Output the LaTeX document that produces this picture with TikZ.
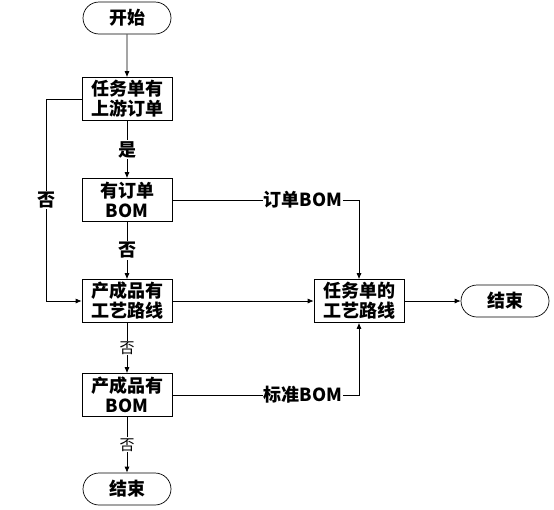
\documentclass[tikz,border=0pt]{standalone}
\usepackage{fontspec}
\setmainfont{Noto Sans CJK SC}
\usetikzlibrary{arrows.meta,shapes.misc}

\begin{document}
\begin{tikzpicture}[x=1pt,y=-1pt,->,>={Latex[length=6pt,width=5pt]},
      line width=0.7pt,
      every node/.style={font=\bfseries\fontsize{18}{20}\selectfont},
      box/.style={draw,rectangle,minimum width=90pt,minimum height=43pt,
        align=center,inner sep=1pt},
      term/.style={draw,rounded rectangle,minimum width=90pt,
        minimum height=32pt,inner sep=1pt},
      lbl/.style={fill=white,inner sep=1pt},
      thinlbl/.style={fill=white,inner sep=1pt,
        font=\fontsize{15}{18}\selectfont}]
      \useasboundingbox (0,0) rectangle (554,509);

      % left column
      \node[term] (start)   at (127, 18) {开始};
      \node[box]  (upord)   at (127, 99) {任务单有\\上游订单};
      \node[box]  (ordbom)  at (127,200) {有订单\\BOM};
      \node[box]  (prodrt)  at (127,301) {产成品有\\工艺路线};
      \node[box]  (prodbom) at (127,395) {产成品有\\BOM};
      \node[term] (endl)    at (127,489) {结束};

      % right part
      \node[box]  (taskrt)  at (359,301) {任务单的\\工艺路线};
      \node[term] (endr)    at (505,301) {结束};

      \coordinate (lfold) at (46,99);

      \draw (start) -- (upord);
      \draw (upord) -- node[lbl] {是} (ordbom);
      \draw (ordbom) -- node[lbl] {否} (prodrt);
      \draw (prodrt) -- node[thinlbl] {否} (prodbom);
      \draw (prodbom) -- node[thinlbl] {否} (endl);
      \draw (upord.west) -- (lfold) |- node[lbl,pos=0.25] {否} (prodrt.west);

      \draw (prodrt) -- (taskrt);
      \draw (taskrt) -- (endr);
      \draw (ordbom.east) -- node[lbl,pos=0.7] {订单BOM}
        (ordbom.east -| taskrt.north) -- (taskrt.north);
      \draw (prodbom.east) -- node[lbl,pos=0.7] {标准BOM}
        (prodbom.east -| taskrt.south) -- (taskrt.south);
\end{tikzpicture}
\end{document}
